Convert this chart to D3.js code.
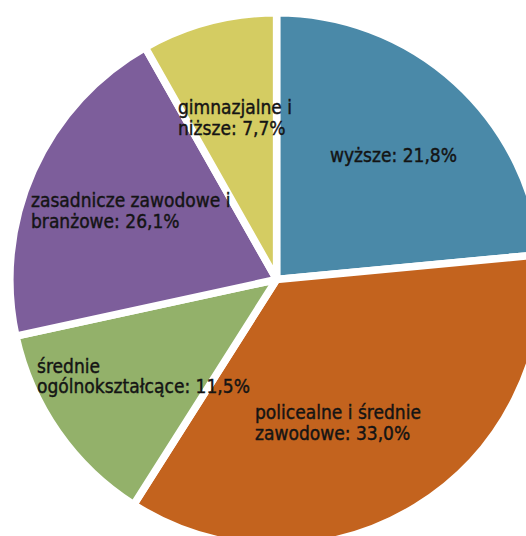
<!DOCTYPE html>
<html>
<head>
<meta charset="utf-8">
<script src="https://cdn.jsdelivr.net/npm/d3@7"></script>
<style>
  html, body { margin: 0; padding: 0; background: #fff; }
  svg { display: block; }
  text { font-family: "DejaVu Sans Condensed", "DejaVu Sans", sans-serif; }
</style>
</head>
<body>
<script>
// ---- data ----
const categories = [
  "wyższe",
  "policealne i średnie zawodowe",
  "średnie ogólnokształcące",
  "zasadnicze zawodowe i branżowe",
  "gimnazjalne i niższe"
];
// slice sizes as drawn in the picture (share of the circle, %)
const sliceValues = [23.5, 35.5, 12.6, 20.2, 8.2];
// percentages printed in the labels
const labelShares = [21.8, 33.0, 11.5, 26.1, 7.7];
// label text lines (category part)
const labelLines = [
  ["wyższe:"],
  ["policealne i średnie", "zawodowe:"],
  ["średnie", "ogólnokształcące:"],
  ["zasadnicze zawodowe i", "branżowe:"],
  ["gimnazjalne i", "niższe:"]
];
const colors = ["#4A89A8", "#C3631E", "#93B16A", "#7D5E9B", "#D4CC62"];

// ---- layout ----
const W = 526, H = 536;
const cx = 276.6, cy = 279.5;
const gap = 7.5;
const R = 263 + gap / 2;
const labelAnchors = [[330, 162], [255, 419], [37, 372.7], [31, 207], [178, 114]];
const lineH = 20.7;

const fmt = v => d3.format(".1f")(v).replace(".", ",") + "%";

const svg = d3.select("body").append("svg").attr("width", W).attr("height", H);
const g = svg.append("g").attr("transform", `translate(${cx},${cy})`);

const pie = d3.pie().sort(null).value(d => d).startAngle(0).endAngle(2 * Math.PI);
const arc = d3.arc().innerRadius(0).outerRadius(R);

g.selectAll("path.slice")
  .data(pie(sliceValues))
  .join("path")
  .attr("class", "slice")
  .attr("d", arc)
  .attr("fill", (d, i) => colors[i])
  .attr("stroke", "#fff")
  .attr("stroke-width", gap)
  .attr("stroke-linejoin", "round");

const labels = svg.append("g");
categories.forEach((c, i) => {
  const lines = labelLines[i].slice();
  lines[lines.length - 1] = lines[lines.length - 1] + " " + fmt(labelShares[i]);
  const t = labels.append("text")
    .attr("x", labelAnchors[i][0])
    .attr("y", labelAnchors[i][1])
    .attr("font-size", 19)
    .attr("fill", "#141414")
    .attr("stroke", "#141414")
    .attr("stroke-width", 0.4);
  lines.forEach((ln, k) => {
    t.append("tspan")
      .attr("x", labelAnchors[i][0])
      .attr("dy", k === 0 ? 0 : lineH)
      .text(ln);
  });
});
</script>
</body>
</html>
